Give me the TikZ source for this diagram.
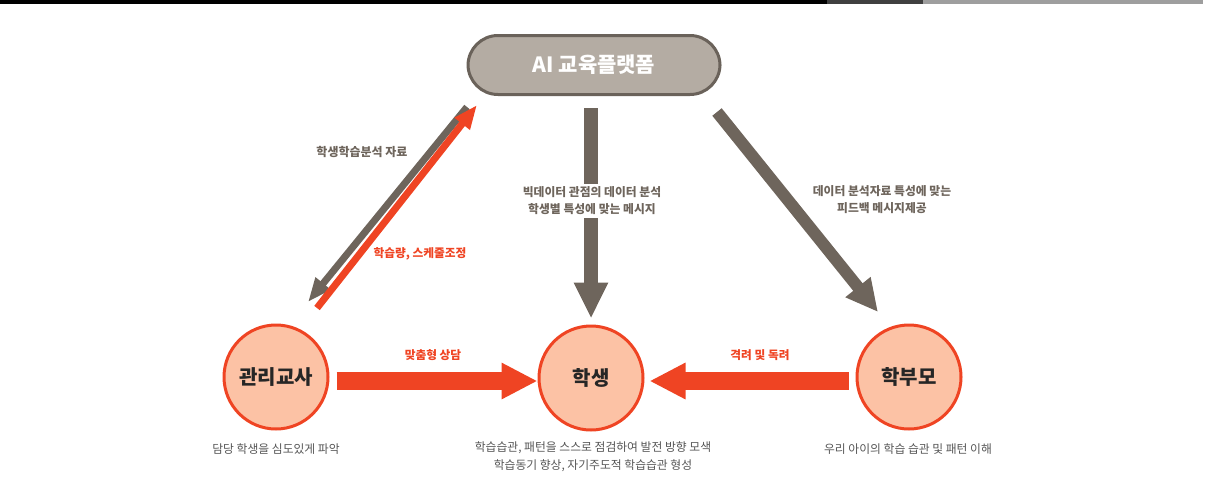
\documentclass[tikz,border=0pt]{standalone}
\usepackage{fontspec}
\setmainfont{Noto Sans CJK KR}
\usetikzlibrary{arrows.meta}
\definecolor{accent}{HTML}{EF4423}
\definecolor{brownish}{HTML}{6E655C}
\definecolor{pillfill}{HTML}{B4ACA3}
\definecolor{pillline}{HTML}{6A625A}
\definecolor{peach}{HTML}{FCC2A5}
\definecolor{txtgray}{HTML}{555555}
\tikzset{
  person/.style={circle, draw=accent, line width=3pt, fill=peach, minimum size=104pt, inner sep=0pt, font=\bfseries\fontsize{20}{22}\selectfont, text=black!85},
  pill/.style={rounded corners=30pt, draw=pillline, line width=3pt, fill=pillfill, minimum width=252pt, minimum height=59pt, text=white, font=\bfseries\fontsize{21}{23}\selectfont},
  redarrow/.style={accent, line width=18pt, -{Triangle[width=34pt,length=36pt]}},
  brownarrow/.style={brownish, line width=14pt, -{Triangle[width=32pt,length=36pt]}},
  thinbrown/.style={brownish, line width=7pt, -{Triangle[width=18pt,length=24pt]}},
  thinred/.style={accent, line width=7pt, -{Triangle[width=18pt,length=24pt]}},
  midlabel/.style={font=\bfseries\fontsize{11.8}{17}\selectfont, text=brownish, align=center},
  redlabel/.style={font=\bfseries\fontsize{11.7}{13}\selectfont, text=accent},
  desc/.style={font=\fontsize{11.8}{18}\selectfont, text=txtgray, align=center}
}
\begin{document}
\begin{tikzpicture}[x=1pt,y=-1pt]
\useasboundingbox (0,0) rectangle (1210,483);
% top bar
\fill[black] (0,0) rectangle (827,4);
\fill[black!75] (827,0) rectangle (923,4);
\fill[black!38] (923,0) rectangle (1203,4);

% nodes
\node[pill] (plat) at (594,65) {AI 교육플랫폼};
\node[person] (teach) at (276,377) {관리교사};
\node[person] (stud) at (591,378) {학생};
\node[person] (par) at (909,377) {학부모};

% arrow end coordinates
\coordinate (gA) at (467,107);
\coordinate (gB) at (308,302);
\coordinate (rA) at (317,308);
\coordinate (rB) at (477,105);
\coordinate (dA) at (717,112);
\coordinate (dB) at (878,312);

% left double arrows
\draw[thinbrown] (gA) -- (gB);
\draw[thinred] (rA) -- (rB);
\node[font=\bfseries\fontsize{12}{13}\selectfont, text=brownish] (lab1) at (362,152) {학생학습분석 자료};
\node[redlabel] (lab2) at (420,254) {학습량, 스케줄조정};

% center vertical arrow
\draw[brownarrow, shorten <=12pt, shorten >=6pt] (plat.south -| stud) -- (stud.north);
\node[midlabel, fill=white, inner sep=3pt] (lab3) at (592,201) {빅데이터 관점의 데이터 분석\\학생별 특성에 맞는 메시지};

% right diagonal arrow
\draw[brownarrow, line width=12pt, -{Triangle[width=30pt,length=32pt]}] (dA) -- (dB);
\node[midlabel] (lab4) at (882,200) {데이터 분석자료 특성에 맞는\\피드백 메시지제공};

% horizontal arrows
\draw[redarrow, shorten <=7pt] (teach.east |- 0,381) coordinate (h1) -- (stud.west |- 0,381) coordinate (h2);
\draw[redarrow, shorten <=7pt, shorten >=5pt] (par.west |- 0,381) coordinate (h3) -- (stud.east |- 0,381) coordinate (h4);
\node[redlabel] (lab5) at (433,355) {맞춤형 상담};
\node[redlabel] (lab6) at (760,355) {격려 및 독려};

% descriptions
\node[desc] (d1) at (276,449) {담당 학생을 심도있게 파악};
\node[desc] (d2) at (593,457) {학습습관, 패턴을 스스로 점검하여 발전 방향 모색\\학습동기 향상, 자기주도적 학습습관 형성};
\node[desc] (d3) at (908,449) {우리 아이의 학습 습관 및 패턴 이해};
\end{tikzpicture}
\end{document}
